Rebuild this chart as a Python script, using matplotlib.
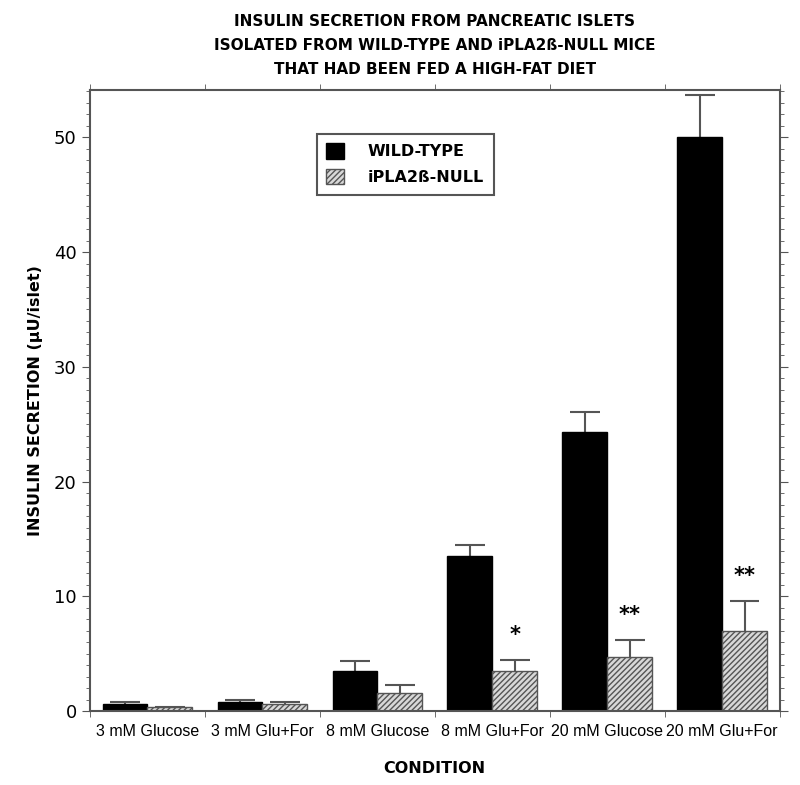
#!/usr/bin/env python3

import numpy as np
import matplotlib
matplotlib.use("Agg")
import matplotlib.pyplot as plt
from matplotlib.ticker import MultipleLocator

conditions = ["3 mM Glucose", "3 mM Glu+For", "8 mM Glucose",
              "8 mM Glu+For", "20 mM Glucose", "20 mM Glu+For"]
wild_type = [0.6, 0.8, 3.5, 13.5, 24.3, 50.0]
wild_type_err = [0.2, 0.2, 0.9, 1.0, 1.8, 3.7]
null = [0.35, 0.6, 1.6, 3.5, 4.7, 7.0]
null_err = [0.05, 0.2, 0.7, 1.0, 1.5, 2.6]
stars = ["", "", "", "*", "**", "**"]

grey = "#555555"


def main():
    plt.rcParams["hatch.color"] = grey
    fig = plt.figure(figsize=(8, 7.85), dpi=100)
    ax = fig.add_axes([0.1125, 0.094, 0.862, 0.791])

    x = np.arange(len(conditions))
    w = 0.39

    ax.bar(x - w / 2, wild_type, w, color="black", edgecolor="black",
           label="WILD-TYPE", zorder=2)
    ax.bar(x + w / 2, null, w, color="#d8d8d8", edgecolor=grey, hatch="//////",
           linewidth=1, label="iPLA2\u00df-NULL", zorder=2)

    # one-sided error bars (upper only)
    for xs, vals, errs in [(x - w / 2, wild_type, wild_type_err), (x + w / 2, null, null_err)]:
        tops = np.array(vals) + np.array(errs)
        ax.vlines(xs, vals, tops, color=grey, linewidth=1.5, zorder=1)
        ax.hlines(tops, xs - 0.13, xs + 0.13, color=grey, linewidth=1.5, zorder=1)

    for i in range(len(conditions)):
        if stars[i]:
            ax.text(x[i] + w / 2, null[i] + null_err[i] + 1.3, stars[i],
                    ha="center", va="bottom", fontsize=15, fontweight="bold")

    ax.set_xlim(-0.5, 5.5)
    ax.set_ylim(0, 54.1)
    ax.set_xticks(x)
    ax.set_xticklabels(conditions, fontsize=11.5, family="Liberation Sans")
    ax.set_xticks(np.arange(-0.5, 6, 1), minor=True)
    ax.tick_params(axis="x", which="major", length=0, pad=9)
    ax.tick_params(axis="x", which="minor", length=4, direction="out", color=grey, top=True)

    ax.yaxis.set_major_locator(MultipleLocator(10))
    ax.yaxis.set_minor_locator(MultipleLocator(1))
    ax.tick_params(axis="y", which="major", length=6, direction="out", color=grey,
                   labelsize=13, right=True)
    ax.tick_params(axis="y", which="minor", length=3, direction="out", color=grey, right=True)

    for s in ax.spines.values():
        s.set_color(grey)
        s.set_linewidth(1.5)

    ax.set_ylabel("INSULIN SECRETION (\u03bcU/islet)", fontsize=11.5, fontweight="bold", labelpad=8)
    ax.set_xlabel("CONDITION", fontsize=11.5, fontweight="bold", labelpad=16)
    ax.set_title("INSULIN SECRETION FROM PANCREATIC ISLETS\n"
                 "ISOLATED FROM WILD-TYPE AND iPLA2\u00df-NULL MICE\n"
                 "THAT HAD BEEN FED A HIGH-FAT DIET",
                 fontsize=11, fontweight="bold", linespacing=1.75, pad=12)

    leg = ax.legend(loc="upper left", bbox_to_anchor=(0.317, 0.943), fancybox=False,
                    edgecolor=grey, framealpha=1, handlelength=1.1, handleheight=1.1,
                    handletextpad=1.5, borderpad=0.6, labelspacing=0.6,
                    prop={"weight": "bold", "size": 11.5})
    leg.get_frame().set_linewidth(1.5)

    fig.savefig("out.png", dpi=100)


if __name__ == "__main__":
    main()
